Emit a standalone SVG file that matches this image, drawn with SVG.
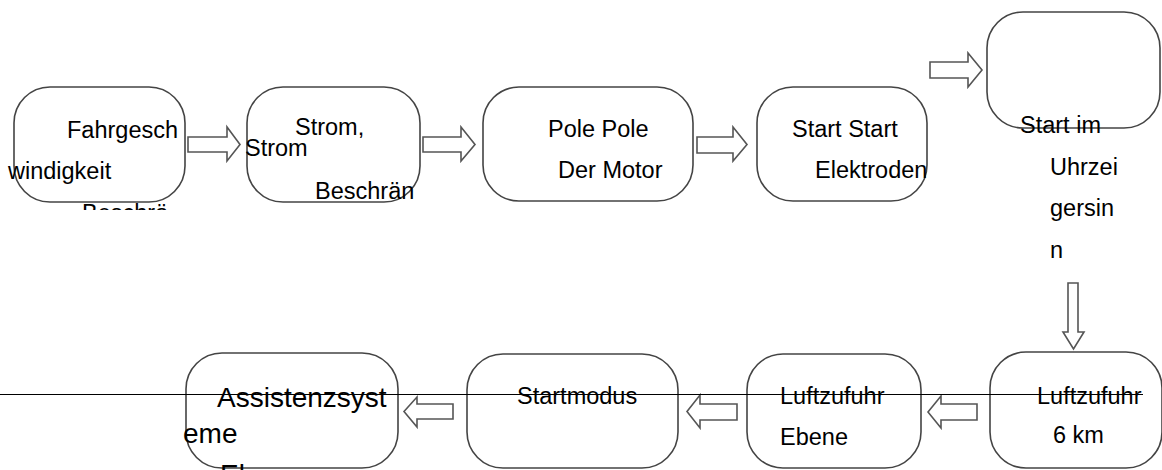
<svg xmlns="http://www.w3.org/2000/svg" width="1162" height="470" viewBox="0 0 1162 470">
<style>
.box{fill:#fff;stroke:#444;stroke-width:1.6}
.arr{fill:#fff;stroke:#555;stroke-width:1.6;stroke-linejoin:miter}
text{font-family:"Liberation Sans",Arial,sans-serif;font-size:23.5px;fill:#000}
.big{font-size:28px}
</style>
<defs>
<clipPath id="clipTop"><rect x="0" y="0" width="1162" height="210"/></clipPath>
</defs>
<g id="connectors">
<polygon class="arr" points="188,137 227,137 227,127 240,144.5 227,161 227,152 188,152"/>
<polygon class="arr" points="423,137 461,137 461,127 475,144.5 461,161 461,152 423,152"/>
<polygon class="arr" points="697,137 733,137 733,127 747,144.5 733,161 733,153 697,153"/>
<polygon class="arr" points="930,62 968,62 968,53 982,70 968,87 968,78 930,78"/>
<polygon class="arr" points="1068,283 1078,283 1078,332 1084,332 1073.5,349 1063,332 1068,332"/>
<polygon class="arr" points="977,404 941,404 941,396 928,412 941,428 941,420 977,420"/>
<polygon class="arr" points="737,404 700,404 700,395 687,411.5 700,428 700,420 737,420"/>
<polygon class="arr" points="453,404 417,404 417,397 404,411.5 417,427 417,419 453,419"/>
</g>
<g id="n1">
<rect class="box" x="14" y="87" width="171" height="115" rx="36"/>
<text x="67" y="138">Fahrgesch</text>
<text x="8" y="179">windigkeit</text>
<text x="82" y="221" clip-path="url(#clipTop)">Beschrä</text>
</g>
<g id="n2">
<rect class="box" x="247" y="87" width="173" height="115" rx="36"/>
<text x="295" y="135">Strom,</text>
<text x="245" y="156">Strom</text>
<text x="315" y="199">Beschrän</text>
</g>
<g id="n3">
<rect class="box" x="483" y="87" width="210" height="114" rx="36"/>
<text x="548" y="137">Pole Pole</text>
<text x="558" y="178">Der Motor</text>
</g>
<g id="n4">
<rect class="box" x="757" y="87" width="170" height="114" rx="36"/>
<text x="792" y="137">Start Start</text>
<text x="815" y="178">Elektroden</text>
</g>
<g id="n5">
<rect class="box" x="987" y="12" width="173" height="116" rx="36"/>
<text x="1020" y="133">Start im</text>
<text x="1050" y="175">Uhrzei</text>
<text x="1050" y="216">gersin</text>
<text x="1050" y="258">n</text>
</g>
<g id="n6">
<rect class="box" x="990" y="352" width="172" height="116" rx="36"/>
<text x="1037" y="404">Luftzufuhr</text>
<text x="1053" y="443">6 km</text>
</g>
<g id="n7">
<rect class="box" x="747" y="354" width="174" height="114" rx="36"/>
<text x="780" y="404">Luftzufuhr</text>
<text x="780" y="445">Ebene</text>
</g>
<g id="n8">
<rect class="box" x="467" y="354" width="211" height="114" rx="36"/>
<text x="517" y="404">Startmodus</text>
</g>
<g id="n9">
<rect class="box" x="186" y="353" width="212" height="115" rx="36"/>
<text class="big" x="217" y="407">Assistenzsyst</text>
<text class="big" x="183" y="443">eme</text>
<text class="big" x="220" y="484">El</text>
</g>
<line x1="0" y1="394.5" x2="1143" y2="394.5" stroke="#000" stroke-width="1"/>
</svg>
